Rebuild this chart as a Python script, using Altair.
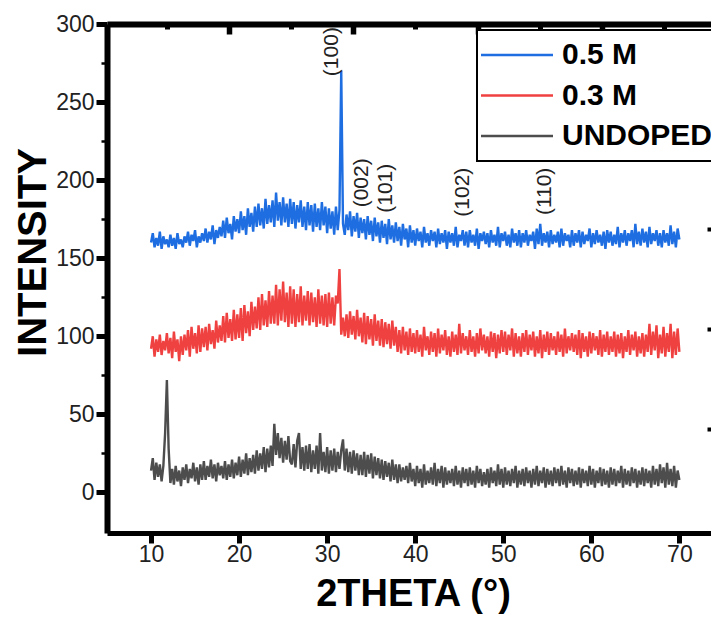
import altair as alt
import pandas as pd

# ---------------- data ----------------
X_START = 10.0
X_STEP = 0.2

blue_05M = [
    160,166,157,163,158,167,156,164,159,162,
    157,165,158,163,156,166,159,162,157,164,
    160,167,158,165,161,168,157,164,160,166,
    161,169,160,167,162,171,159,168,163,170,
    164,174,163,176,166,172,162,177,167,175,
    166,180,168,177,165,182,170,179,167,183,
    170,185,171,182,169,188,172,184,173,187,
    170,192,174,186,171,189,173,185,170,188,
    172,186,169,184,173,187,170,183,168,186,
    171,184,167,185,170,182,168,186,171,183,
    166,182,169,180,165,183,168,181,270,172,
    165,178,168,180,164,177,167,179,163,176,
    166,175,162,177,165,174,161,176,164,173,
    160,174,163,172,159,175,162,171,160,173,
    161,170,158,172,162,169,157,171,160,168,
    158,169,161,167,157,170,160,166,158,168,
    161,167,157,169,159,166,160,168,156,167,
    160,166,158,170,157,165,161,168,158,167,
    157,168,160,165,158,169,156,166,161,167,
    159,166,157,168,160,165,158,170,157,166,
    161,167,158,165,157,169,160,166,158,168,
    157,166,160,168,158,165,161,167,156,169,
    159,172,158,166,160,167,157,168,159,165,
    160,167,157,169,158,166,161,165,157,168,
    158,166,160,168,157,167,159,165,161,169,
    157,166,159,168,160,165,158,167,156,168,
    160,167,158,165,159,170,157,166,160,168,
    158,166,161,168,157,172,159,167,158,169,
    160,167,157,170,159,166,161,168,158,166,
    157,168,160,166,158,171,159,167,157,169,
    162,
]

red_03M = [
    92,100,87,98,90,101,88,97,91,102,
    89,99,86,103,90,98,84,100,88,101,
    91,104,87,106,92,102,89,107,90,105,
    93,106,91,108,95,104,92,110,96,107,
    97,113,96,115,99,111,97,117,98,114,
    99,118,97,120,102,116,100,122,104,119,
    105,125,104,127,107,123,106,129,108,126,
    108,133,107,130,110,135,109,128,106,132,
    108,130,106,127,109,132,107,126,110,129,
    107,128,109,125,106,130,108,126,107,127,
    106,128,108,125,107,126,121,143,101,112,
    100,114,99,116,101,113,98,117,100,112,
    96,115,95,113,98,111,94,114,97,110,
    94,111,93,109,95,108,92,110,94,106,
    90,104,89,106,91,103,88,105,90,102,
    89,104,90,101,87,106,91,100,88,103,
    90,102,87,105,89,101,91,104,88,100,
    87,103,90,101,88,108,89,102,91,100,
    88,104,90,100,87,102,89,105,91,101,
    89,100,87,103,90,102,86,101,89,104,
    90,103,88,101,91,105,87,102,89,100,
    87,102,90,104,88,101,91,103,87,100,
    89,104,86,101,90,103,88,102,91,100,
    88,103,90,101,87,105,89,100,91,102,
    90,101,88,104,86,102,90,100,87,103,
    89,102,91,100,88,104,87,101,90,103,
    88,100,90,103,87,101,89,102,86,100,
    90,104,88,101,91,103,87,100,89,102,
    87,101,90,108,88,103,91,107,86,101,
    89,106,87,102,90,108,86,103,88,105,
    90,
]

gray_undoped = [
    14,22,8,19,10,18,7,17,38,72,
    28,6,15,5,17,7,14,4,16,8,
    18,6,15,9,19,7,16,5,18,8,
    20,8,17,10,21,9,18,7,19,11,
    17,9,20,8,18,10,21,9,19,11,
    23,10,21,12,25,11,22,13,24,12,
    27,14,25,15,29,13,28,16,30,17,
    44,24,38,22,35,19,33,21,36,20,
    18,31,16,33,38,15,29,14,30,15,
    31,13,27,15,30,12,38,14,26,13,
    29,12,27,14,28,13,26,15,27,34,
    14,28,13,26,12,27,14,25,11,24,
    11,26,10,24,12,25,9,23,11,22,
    9,21,8,20,10,19,7,21,8,18,
    6,18,7,16,8,17,6,19,7,15,
    4,17,6,15,3,18,5,14,6,16,
    5,19,4,15,6,17,3,16,5,14,
    6,15,4,17,5,14,3,16,6,15,
    4,16,5,14,3,17,6,15,4,13,
    5,15,3,16,6,14,4,18,5,15,
    3,16,5,14,4,15,6,17,3,14,
    5,15,4,16,6,14,3,15,5,17,
    4,14,6,16,3,15,5,14,4,16,
    6,15,4,17,5,14,3,16,6,15,
    4,14,5,16,3,15,6,14,4,17,
    5,15,3,14,6,16,4,15,5,14,
    3,16,5,15,4,14,6,17,3,15,
    5,14,4,16,6,15,3,14,5,16,
    4,15,6,14,3,17,5,15,4,18,
    6,16,3,19,5,15,4,17,3,14,
    8,
]

series_names = ["0.5 M", "0.3 M", "UNDOPED"]
series_values = [blue_05M, red_03M, gray_undoped]
series_colors = ["#1e6ee1", "#f04141", "#4d4d4d"]

peak_labels = ["(100)", "(002)", "(101)", "(102)", "(110)"]
peak_x = [30.55, 34.0, 36.7, 45.4, 54.7]
peak_top = [298, 214, 210.5, 208, 208]

x_ticks = [10, 20, 30, 40, 50, 60, 70]
y_ticks = [0, 25, 50, 75, 100, 125, 150, 175, 200, 225, 250, 275, 300]
top_major = [0, 10, 20, 30]
top_minor = [-5, 5, 15, 25, 35]
right_ticks = [100, 200, 300]

# ---------------- tables ----------------
rows = []
for name, vals in zip(series_names, series_values):
    for i, v in enumerate(vals):
        rows.append({"theta": round(X_START + X_STEP * i, 2), "intensity": v, "sample": name})
df = pd.DataFrame(rows)
ann_df = pd.DataFrame({"x": peak_x, "y": peak_top, "label": peak_labels})

FONT = "Liberation Sans"
W, H = 604, 509
xscale = alt.Scale(domain=[5, 73.59], nice=False, zero=False)
yscale = alt.Scale(domain=[-26, 300], nice=False, zero=False)

major_test = "datum.value % 50 === 0"

lines = alt.Chart(df).mark_line(strokeWidth=2.4, strokeJoin="bevel", clip=True).encode(
    x=alt.X("theta:Q", scale=xscale,
            axis=alt.Axis(title="2THETA (°)", values=x_ticks, grid=False,
                          domainColor="black", domainWidth=5,
                          tickColor="black", tickWidth=5, tickSize=10,
                          labelFontSize=23, labelColor="#222", labelPadding=0,
                          labelFont=FONT, titleFont=FONT,
                          titleFontSize=38, titleFontWeight="bold", titleColor="black",
                          titleX=306, titleY=72, titleBaseline="alphabetic",
                          titleAlign="center")),
    y=alt.Y("intensity:Q", scale=yscale,
            axis=alt.Axis(title="INTENSITY", values=y_ticks, grid=False,
                          domainColor="black", domainWidth=6,
                          tickColor="black",
                          tickWidth={"condition": {"test": major_test, "value": 5}, "value": 2.5},
                          tickSize={"condition": {"test": major_test, "value": 11}, "value": 6},
                          labelExpr="datum.value % 50 === 0 ? datum.label : ''",
                          labelFontSize=23, labelColor="#222", labelPadding=2,
                          labelFont=FONT, titleFont=FONT,
                          titleFontSize=40, titleFontWeight="bold", titleColor="black",
                          titleAngle=270, titleX=-62, titleY=228,
                          titleAlign="center", titleBaseline="alphabetic")),
    color=alt.Color("sample:N",
                    scale=alt.Scale(domain=series_names, range=series_colors),
                    legend=alt.Legend(title="", orient="none", legendX=370, legendY=6,
                                      padding=10, strokeColor="black",
                                      fillColor="white",
                                      symbolType="M-21,0H51", symbolSize=4,
                                      symbolStrokeWidth=2.5,
                                      labelFontSize=30, labelFontWeight="bold",
                                      labelColor="black", labelFont=FONT,
                                      labelOffset=45, rowPadding=10.5, labelLimit=400)),
)

ann = alt.Chart(ann_df).mark_text(angle=270, align="right", baseline="middle",
                                  fontSize=21, font=FONT, color="#222").encode(
    x=alt.X("x:Q", scale=xscale),
    y=alt.Y("y:Q", scale=yscale),
    text="label:N",
)

main = alt.layer(lines, ann)

top_scale_domain = [-9.81, 38.77]

top_major_layer = alt.Chart(pd.DataFrame({"t": top_major})).mark_point(opacity=0).encode(
    x=alt.X("t:Q", scale=alt.Scale(domain=top_scale_domain, nice=False, zero=False),
            axis=alt.Axis(orient="top", values=top_major, offset=-10, tickSize=10,
                          tickWidth=5.5, tickColor="black", domain=False, labels=False,
                          grid=False, title=""))
)
top_minor_layer = alt.Chart(pd.DataFrame({"t": top_minor})).mark_point(opacity=0).encode(
    x=alt.X("t:Q", scale=alt.Scale(domain=top_scale_domain, nice=False, zero=False),
            axis=alt.Axis(orient="top", values=top_minor, offset=-5, tickSize=5,
                          tickWidth=5, tickColor="black", domain=False, labels=False,
                          grid=False, title=""))
)
top_border_layer = alt.Chart(pd.DataFrame({"t": top_major})).mark_point(opacity=0).encode(
    x=alt.X("t:Q", scale=alt.Scale(domain=top_scale_domain, nice=False, zero=False),
            axis=alt.Axis(orient="top", ticks=False, labels=False, grid=False,
                          domain=True, domainColor="black", domainWidth=6, title=""))
)
right_layer = alt.Chart(pd.DataFrame({"r": right_ticks})).mark_point(opacity=0).encode(
    y=alt.Y("r:Q", scale=alt.Scale(domain=[-4.5, 504.5], nice=False, zero=False),
            axis=alt.Axis(orient="right", values=right_ticks, offset=-4, tickSize=4,
                          tickWidth=4, tickColor="black", domain=False, labels=False,
                          grid=False, title=""))
)

chart = alt.layer(main, top_major_layer, top_minor_layer, top_border_layer, right_layer).resolve_scale(
    x="independent", y="independent"
).properties(
    width=W, height=H,
    autosize=alt.AutoSizeParams(type="none"),
    padding={"left": 99, "top": 16, "right": 0, "bottom": 81},
    background="white",
).configure_view(stroke=None).configure(font=FONT).configure_legend(strokeWidth=2)

chart.save("out.html", embed_options={"renderer": "svg", "actions": False})
